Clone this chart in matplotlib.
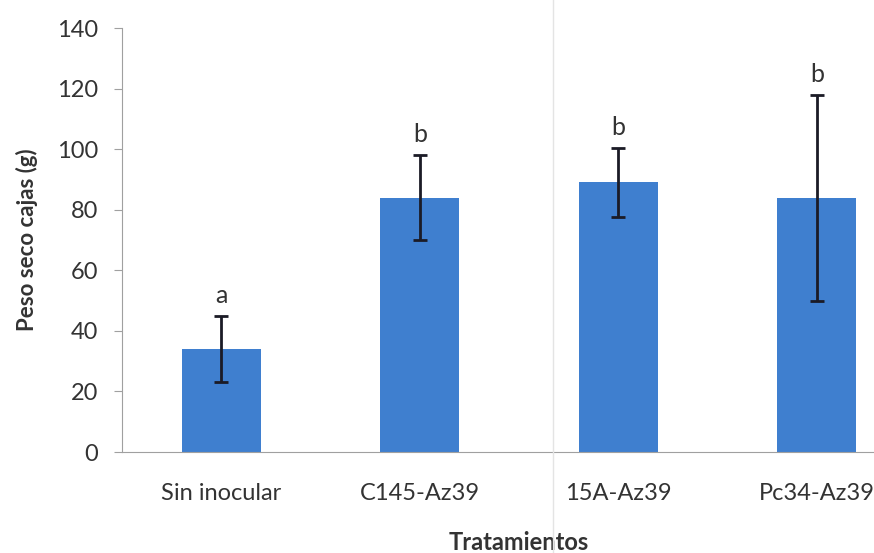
import matplotlib.pyplot as plt
from matplotlib.lines import Line2D

# peso seco por tratamiento
tratamientos = ["Sin inocular", "C145-Az39", "15A-Az39", "Pc34-Az39"]
peso_medio = [34, 84, 89, 84]
error_std = [11, 14, 11.5, 34]
letras = ["a", "b", "b", "b"]

plt.rcParams['font.family'] = ['Lato', 'DejaVu Sans']

fig = plt.figure(figsize=(8.74, 5.53), dpi=100)
ax = fig.add_axes([0.1396, 0.1826, 0.9085, 0.7667])

x = range(len(tratamientos))
ax.bar(x, peso_medio, width=0.40, color='#3f7fcf', zorder=2)
ax.errorbar(x, peso_medio, yerr=error_std, fmt='none', ecolor='#1b1b26',
            elinewidth=2, capsize=5, capthick=2, zorder=3)

for i in x:
    ax.text(i, peso_medio[i] + error_std[i] + 3, letras[i], ha='center',
            va='bottom', fontsize=18, color='#333333')

ax.set_xlim(-0.5, 3.5)
ax.set_ylim(0, 140)
ax.set_yticks(range(0, 141, 20))
ax.set_xticks(list(x))
ax.set_xticklabels(tratamientos)

for s in ['top', 'right']:
    ax.spines[s].set_visible(False)
ax.spines['left'].set_color('#a0a0a0')
ax.spines['bottom'].set_color('#a0a0a0')
ax.tick_params(axis='y', length=6, color='#a0a0a0', labelsize=17,
               labelcolor='#333333', pad=11)
ax.tick_params(axis='x', length=0, labelsize=17, labelcolor='#333333', pad=22)

ax.set_ylabel("Peso seco cajas (g)", fontsize=16, fontweight='bold',
              color='#333333', labelpad=14)
ax.set_xlabel("Tratamientos", fontsize=17, fontweight='bold',
              color='#333333', labelpad=20)

# linea vertical tenue del escaneo
fig.add_artist(Line2D([553 / 874, 553 / 874], [0, 1], color='#e4e4e4',
                      lw=1, transform=fig.transFigure))

fig.savefig('out.png', dpi=100)
